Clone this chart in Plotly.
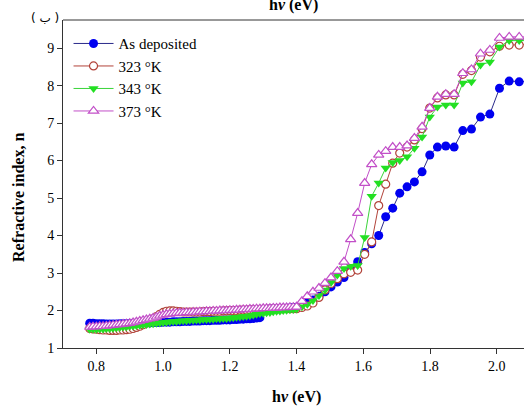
import plotly.graph_objects as go

# Photon energy grid (eV)
energy = [0.78, 0.79, 0.80, 0.81, 0.82, 0.83, 0.84, 0.85, 0.86, 0.87, 0.88, 0.89,
          0.90, 0.91, 0.92, 0.93, 0.94, 0.95, 0.96, 0.97, 0.98, 0.99,
          1.00, 1.01, 1.02, 1.03, 1.04, 1.05, 1.06, 1.07, 1.08, 1.09,
          1.10, 1.11, 1.12, 1.13, 1.14, 1.15, 1.16, 1.17, 1.18, 1.19,
          1.20, 1.21, 1.22, 1.23, 1.24, 1.25, 1.26, 1.27, 1.28, 1.29,
          1.30, 1.31, 1.32, 1.33, 1.34, 1.35, 1.36, 1.37, 1.38, 1.39, 1.40,
          1.416, 1.432, 1.449, 1.467, 1.485, 1.503, 1.522, 1.542, 1.562, 1.583,
          1.604, 1.625, 1.646, 1.667, 1.688, 1.709, 1.731, 1.753, 1.776, 1.799,
          1.822, 1.847, 1.872, 1.898, 1.924, 1.951, 1.979, 2.008, 2.037, 2.067, 2.097]

n_as_deposited = [1.66, 1.66, 1.65, 1.65, 1.65, 1.64, 1.64, 1.64, 1.64, 1.65, 1.65, 1.65,
                  1.65, 1.66, 1.66, 1.66, 1.67, 1.67, 1.67, 1.68, 1.68, 1.68,
                  1.69, 1.69, 1.69, 1.70, 1.70, 1.70, 1.71, 1.71, 1.71, 1.72,
                  1.72, 1.72, 1.73, 1.73, 1.73, 1.74, 1.74, 1.74, 1.75, 1.75,
                  1.75, 1.76, 1.76, 1.77, 1.77, 1.78, 1.78, 1.79, 1.80, 1.81,
                  2.03, 2.03, 2.04, 2.04, 2.05, 2.05, 2.06, 2.06, 2.07, 2.08, 2.09,
                  2.14, 2.20, 2.28, 2.38, 2.50, 2.63, 2.76, 2.88, 3.05, 3.30,
                  3.55, 3.78, 4.00, 4.50, 4.73, 5.13, 5.30, 5.43, 5.70, 6.15,
                  6.36, 6.39, 6.36, 6.80, 6.84, 7.16, 7.24, 7.93, 8.12, 8.10, 8.10]

n_323K = [1.52, 1.51, 1.50, 1.49, 1.48, 1.48, 1.47, 1.47, 1.47, 1.48, 1.48, 1.49,
          1.50, 1.52, 1.55, 1.58, 1.62, 1.67, 1.72, 1.78, 1.84, 1.90,
          1.95, 1.98, 1.99, 1.99, 1.98, 1.97, 1.96, 1.96, 1.96, 1.96,
          1.96, 1.96, 1.97, 1.97, 1.97, 1.98, 1.98, 1.98, 1.99, 1.99,
          2.00, 2.00, 2.00, 2.01, 2.01, 2.01, 2.02, 2.02, 2.02, 2.03,
          2.03, 2.03, 2.04, 2.04, 2.04, 2.04, 2.05, 2.05, 2.05, 2.05, 2.05,
          2.08, 2.12, 2.20, 2.35, 2.55, 2.72, 2.85, 2.98, 3.02, 3.08,
          3.50, 3.83, 4.80, 5.37, 5.93, 6.20, 6.36, 6.55, 6.85, 7.40,
          7.67, 7.75, 7.75, 8.30, 8.40, 8.76, 8.90, 9.05, 9.08, 9.08, 9.10]

n_343K = [1.50, 1.50, 1.50, 1.51, 1.51, 1.52, 1.52, 1.53, 1.54, 1.55, 1.56, 1.57,
          1.58, 1.59, 1.60, 1.61, 1.62, 1.63, 1.64, 1.65, 1.66, 1.67,
          1.68, 1.69, 1.70, 1.71, 1.71, 1.72, 1.73, 1.73, 1.74, 1.74,
          1.75, 1.75, 1.76, 1.76, 1.77, 1.77, 1.78, 1.78, 1.79, 1.79,
          1.80, 1.81, 1.82, 1.83, 1.84, 1.85, 1.86, 1.88, 1.90, 1.92,
          1.93, 1.94, 1.95, 1.97, 1.98, 1.99, 2.00, 2.01, 2.02, 2.03, 2.04,
          2.10, 2.17, 2.27, 2.40, 2.55, 2.75, 2.95, 3.12, 3.18, 3.20,
          3.95, 5.05, 5.40, 5.80, 5.95, 6.00, 6.10, 6.33, 6.63, 7.16,
          7.43, 7.48, 7.48, 8.07, 8.10, 8.55, 8.63, 9.03, 9.20, 9.20, 9.20]

n_373K = [1.56, 1.57, 1.57, 1.58, 1.58, 1.59, 1.60, 1.61, 1.62, 1.63, 1.64, 1.65,
          1.66, 1.68, 1.70, 1.72, 1.74, 1.76, 1.78, 1.80, 1.83, 1.86,
          1.88, 1.90, 1.91, 1.92, 1.93, 1.94, 1.94, 1.95, 1.95, 1.96,
          1.96, 1.97, 1.97, 1.98, 1.98, 1.99, 1.99, 2.00, 2.00, 2.00,
          2.01, 2.01, 2.02, 2.02, 2.03, 2.03, 2.04, 2.04, 2.05, 2.05,
          2.06, 2.06, 2.06, 2.07, 2.07, 2.08, 2.08, 2.08, 2.09, 2.09, 2.10,
          2.25, 2.38, 2.50, 2.60, 2.73, 2.88, 3.05, 3.30, 3.90, 4.60,
          5.40, 5.90, 6.15, 6.25, 6.36, 6.36, 6.40, 6.60, 6.90, 7.40,
          7.70, 7.77, 7.77, 8.33, 8.43, 8.85, 8.95, 9.27, 9.30, 9.30, 9.30]

series_names = ["As deposited", "323 °K", "343 °K", "373 °K"]
x_ticks = [0.8, 1.0, 1.2, 1.4, 1.6, 1.8, 2.0]
x_tick_labels = ["0.8", "1.0", "1.2", "1.4", "1.6", "1.8", "2.0"]
y_ticks = [1, 2, 3, 4, 5, 6, 7, 8, 9]

FONT = "Liberation Serif"

styles = [
    dict(line=dict(color="#2a2a8a", width=1),
         marker=dict(symbol="circle", size=9, color="#0000f0", line=dict(width=0))),
    dict(line=dict(color="#b2433a", width=1),
         marker=dict(symbol="circle", size=8, color="white", line=dict(color="#b2433a", width=1.2))),
    dict(line=dict(color="#3ad43a", width=1),
         marker=dict(symbol="triangle-down", size=9, color="#22e022", line=dict(width=0))),
    dict(line=dict(color="#c24fc8", width=1),
         marker=dict(symbol="triangle-up", size=9, color="white", line=dict(color="#c24fc8", width=1.2))),
]

fig = go.Figure()
for name, ys, st in zip(series_names, [n_as_deposited, n_323K, n_343K, n_373K], styles):
    fig.add_trace(go.Scatter(x=energy, y=ys, mode="lines+markers", name=name,
                             line=st["line"], marker=st["marker"], cliponaxis=True))

fig.update_layout(
    width=524, height=406,
    margin=dict(l=63, r=0, t=20, b=58),
    paper_bgcolor="white", plot_bgcolor="white",
    font=dict(family=FONT, size=14, color="black"),
    showlegend=True,
    legend=dict(x=0.012, y=0.978, xanchor="left", yanchor="top",
                bgcolor="rgba(0,0,0,0)", font=dict(family=FONT, size=15),
                tracegroupgap=0, itemwidth=40),
    xaxis=dict(range=[0.7, 2.0814], tickvals=x_ticks, ticktext=x_tick_labels,
               showgrid=False, zeroline=False, showline=True, linecolor="#333",
               linewidth=1, ticks="outside", ticklen=5, tickcolor="#333",
               tickfont=dict(family=FONT, size=14)),
    yaxis=dict(range=[1, 9.75], tickvals=y_ticks,
               showgrid=False, zeroline=False, showline=True, linecolor="#333",
               linewidth=1, ticks="outside", ticklen=5, tickcolor="#333",
               tickfont=dict(family=FONT, size=14)),
    shapes=[dict(type="line", xref="paper", yref="paper", x0=0, x1=1, y0=1, y1=1,
                 line=dict(color="#333", width=1))],
    annotations=[
        dict(text="<b>h<i>ν</i> (eV)</b>", xref="paper", yref="paper",
             x=0.506, y=-0.148, xanchor="center", yanchor="middle",
             showarrow=False, font=dict(family=FONT, size=16)),
        dict(text="<b>h<i>ν</i> (eV)</b>", xref="paper", yref="paper",
             x=0.500, y=1.047, xanchor="center", yanchor="middle",
             showarrow=False, font=dict(family=FONT, size=16)),
        dict(text="<b>Refractive index, n</b>", xref="paper", yref="paper",
             x=-0.098, y=0.46, xanchor="center", yanchor="middle", textangle=-90,
             showarrow=False, font=dict(family=FONT, size=16)),
        dict(text="( ب )", xref="paper", yref="paper",
             x=-0.039, y=1.006, xanchor="center", yanchor="middle",
             showarrow=False, font=dict(family="DejaVu Sans", size=12)),
    ],
)

fig.write_html("out.html", config={"displayModeBar": False},
               post_script="document.body.style.margin='0';")
